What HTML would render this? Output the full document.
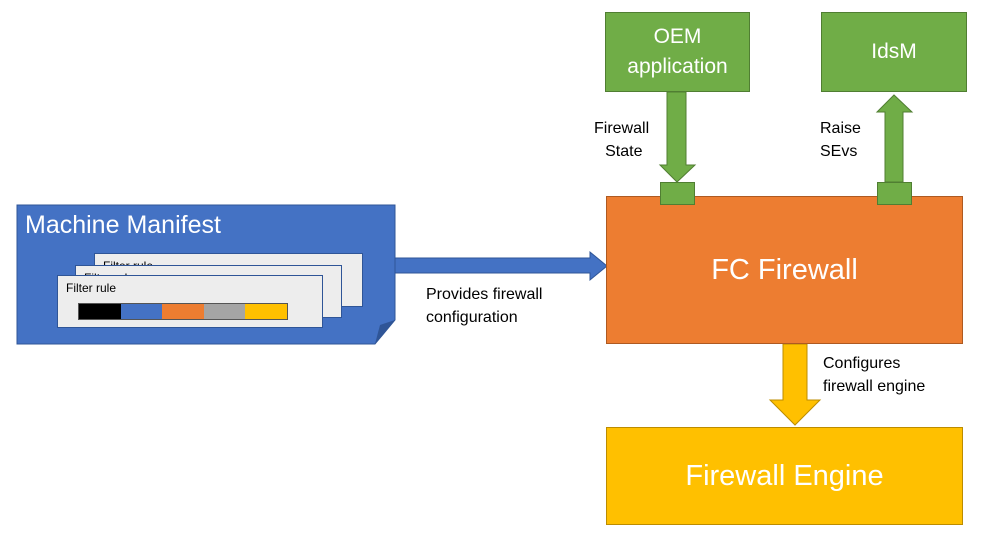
<!DOCTYPE html>
<html><head><style>
body{margin:0;width:982px;height:539px;background:#fff;position:relative;overflow:hidden;font-family:"Liberation Sans",sans-serif}
.a{position:absolute;box-sizing:border-box}
.g{background:#70ad47;border:1px solid #507e32;color:#fff;font-size:21px;text-align:center;display:flex;align-items:center;justify-content:center;line-height:30px}
.card{background:#ededed;border:1px solid #2f5597;font-size:12px;padding:5px 0 0 8px;color:#000}
.t{position:absolute;font-size:16px;color:#000;line-height:23px}
</style></head><body>
<div class="a g" style="left:605px;top:12px;width:145px;height:80px">OEM<br>application</div>
<div class="a g" style="left:821px;top:12px;width:146px;height:80px">IdsM</div>
<svg class="a" style="left:0;top:0" width="982" height="539">
<polygon points="667,92 686,92 686,165 695,165 677,182 660,165 667,165" fill="#70ad47" stroke="#507e32"/>
<polygon points="885,182 903,182 903,112 912,112 894,95 877,112 885,112" fill="#70ad47" stroke="#507e32"/>
<polygon points="395,258 590,258 590,252 607,266 590,280 590,273 395,273" fill="#4472c4" stroke="#2f5597"/>
<polygon points="783,344 807,344 807,400 820,400 795,425 770,400 783,400" fill="#ffc000" stroke="#bc8c00"/>
<polygon points="17,205 395,205 395,320 375,344 17,344" fill="#4472c4" stroke="#2f5597"/>
<polygon points="395,320 375,344 380,325" fill="#2f5597"/>
</svg>
<div class="a" style="left:606px;top:196px;width:357px;height:148px;background:#ed7d31;border:1px solid #ae5a21;color:#fff;font-size:29px;display:flex;align-items:center;justify-content:center">FC Firewall</div>
<div class="a" style="left:660px;top:182px;width:35px;height:23px;background:#70ad47;border:1px solid #507e32"></div>
<div class="a" style="left:877px;top:182px;width:35px;height:23px;background:#70ad47;border:1px solid #507e32"></div>
<div class="a" style="left:606px;top:427px;width:357px;height:98px;background:#ffc000;border:1px solid #bc8c00;color:#fff;font-size:29px;display:flex;align-items:center;justify-content:center">Firewall Engine</div>
<div class="a" style="left:25px;top:211px;color:#fff;font-size:25px">Machine Manifest</div>
<div class="a card" style="left:94px;top:253px;width:269px;height:54px">Filter rule</div>
<div class="a card" style="left:75px;top:265px;width:267px;height:53px">Filter rule</div>
<div class="a card" style="left:57px;top:275px;width:266px;height:53px">Filter rule</div>
<div class="a" style="left:78px;top:303px;width:210px;height:17px;display:flex;border:1px solid #555">
<div style="flex:1;background:#000"></div><div style="flex:1;background:#4472c4"></div><div style="flex:1;background:#ed7d31"></div><div style="flex:1;background:#a5a5a5"></div><div style="flex:1;background:#ffc000"></div></div>
<div class="t" style="left:426px;top:283px">Provides firewall<br>configuration</div>
<div class="t" style="left:594px;top:117px;text-align:center">Firewall<br>&nbsp;State</div>
<div class="t" style="left:820px;top:117px">Raise<br>SEvs</div>
<div class="t" style="left:823px;top:352px">Configures<br>firewall engine</div>
</body></html>
